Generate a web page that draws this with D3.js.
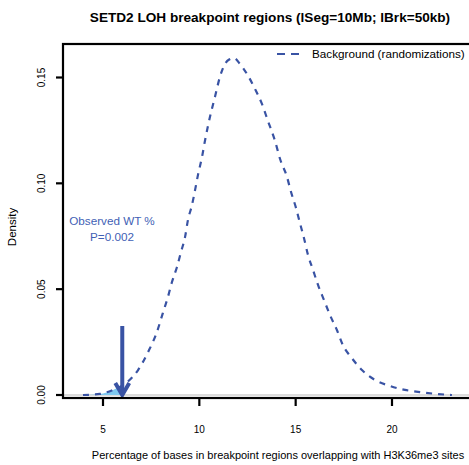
<!DOCTYPE html>
<html>
<head>
<meta charset="utf-8">
<script src="https://cdn.jsdelivr.net/npm/d3@7"></script>
<style>
  body { margin: 0; background: #fff; }
  svg { display: block; font-family: "Liberation Sans", Arial, sans-serif; }
</style>
</head>
<body>
<svg id="chart" width="469" height="465"></svg>
<script>
// Background density (randomizations)
const densX = [3.96, 4.84, 5.52, 6.25, 6.82, 7.34, 7.80, 8.11, 8.37, 8.58, 8.84, 9.05, 9.26, 9.41,
  9.62, 9.78, 9.93, 10.14, 10.29, 10.55, 10.81, 11.07, 11.33, 11.55, 11.80, 12.10, 12.47, 12.89,
  13.25, 13.56, 13.93, 14.19, 14.55, 14.76, 15.02, 15.22, 15.43, 15.64, 15.90, 16.16, 16.47,
  16.78, 17.14, 17.45, 17.92, 18.44, 19.12, 19.89, 20.67, 21.45, 22.33, 23.11]
const densY = [0.0000, 0.0005, 0.0024, 0.0060, 0.0118, 0.0203, 0.0298, 0.0388, 0.0463, 0.0534,
  0.0605, 0.0676, 0.0747, 0.0827, 0.0898, 0.0969, 0.1040, 0.1125, 0.1200, 0.1313, 0.1408,
  0.1503, 0.1564, 0.1585, 0.1592, 0.1565, 0.1517, 0.1446, 0.1375, 0.1295, 0.1200, 0.1115,
  0.1030, 0.0959, 0.0883, 0.0813, 0.0742, 0.0662, 0.0591, 0.0520, 0.0449, 0.0378, 0.0307,
  0.0236, 0.0174, 0.0118, 0.0071, 0.0043, 0.0024, 0.0014, 0.0005, 0.0000]
const observed = 6.0
const pValue = '0.002'
const xTicks = [5, 10, 15, 20]
const yTicks = [0, 0.05, 0.10, 0.15]

const blue = '#3953a4'
const svg = d3.select('#chart')

const x = d3.scaleLinear().domain([5, 20]).range([103, 392])
const y = d3.scaleLinear().domain([0, 0.15]).range([395, 77.5])
const plot = { left: 63, top: 44, right: 472, bottom: 398 }

const pts = densX.map((d, i) => [d, densY[i]])

svg.append('clipPath').attr('id', 'clip')
  .append('rect')
  .attr('x', plot.left).attr('y', plot.top)
  .attr('width', plot.right - plot.left).attr('height', plot.bottom - plot.top)

const g = svg.append('g').attr('clip-path', 'url(#clip)')

// zero line
g.append('line')
  .attr('x1', plot.left).attr('x2', plot.right)
  .attr('y1', y(0)).attr('y2', y(0))
  .attr('stroke', '#d0d0d0').attr('stroke-width', 1.5)

// shaded tail up to observed value
const k = d3.bisectLeft(densX, observed)
const t = (observed - densX[k - 1]) / (densX[k] - densX[k - 1])
const yAtObs = densY[k - 1] + t * (densY[k] - densY[k - 1])
const tail = pts.filter(p => p[0] <= observed).concat([[observed, yAtObs]])
g.append('path')
  .datum(tail)
  .attr('fill', '#7ec8ef')
  .attr('d', d3.area().x(d => x(d[0])).y0(y(0)).y1(d => y(d[1])).curve(d3.curveMonotoneX))

// density curve
g.append('path')
  .datum(pts)
  .attr('fill', 'none')
  .attr('stroke', blue)
  .attr('stroke-width', 2.2)
  .attr('stroke-dasharray', '6,6')
  .attr('d', d3.line().x(d => x(d[0])).y(d => y(d[1])).curve(d3.curveMonotoneX))

// observed arrow
const ax = x(observed)
g.append('line')
  .attr('x1', ax).attr('x2', ax)
  .attr('y1', 326).attr('y2', y(0) - 2)
  .attr('stroke', blue).attr('stroke-width', 4)
g.append('path')
  .attr('d', `M${ax - 7},${y(0) - 12}L${ax},${y(0)}L${ax + 7},${y(0) - 12}`)
  .attr('fill', 'none').attr('stroke', blue).attr('stroke-width', 4)
  .attr('stroke-linejoin', 'miter')

// observed label
const lab = svg.append('text')
  .attr('text-anchor', 'middle')
  .attr('fill', '#3f5fb5')
  .attr('font-size', 11.7)
lab.append('tspan').attr('x', 112).attr('y', 225).text('Observed WT %')
lab.append('tspan').attr('x', 112).attr('y', 241).text('P=' + pValue)

// box
svg.append('rect')
  .attr('x', plot.left).attr('y', plot.top)
  .attr('width', plot.right - plot.left).attr('height', plot.bottom - plot.top)
  .attr('fill', 'none').attr('stroke', '#000').attr('stroke-width', 2.2)

// x axis
const xAxis = svg.append('g')
xAxis.selectAll('line').data(xTicks).join('line')
  .attr('x1', d => x(d)).attr('x2', d => x(d))
  .attr('y1', plot.bottom).attr('y2', plot.bottom + 8)
  .attr('stroke', '#000').attr('stroke-width', 2.2)
xAxis.selectAll('text').data(xTicks).join('text')
  .attr('x', d => x(d)).attr('y', 433)
  .attr('text-anchor', 'middle').attr('font-size', 10)
  .text(d => d)

// y axis
const yAxis = svg.append('g')
yAxis.selectAll('line').data(yTicks).join('line')
  .attr('x1', plot.left - 7).attr('x2', plot.left)
  .attr('y1', d => y(d)).attr('y2', d => y(d))
  .attr('stroke', '#000').attr('stroke-width', 2.2)
yAxis.selectAll('text').data(yTicks).join('text')
  .attr('transform', d => `translate(45,${y(d)}) rotate(-90)`)
  .attr('text-anchor', 'middle').attr('font-size', 10)
  .text(d => d3.format('.2f')(d))

// titles
svg.append('text')
  .attr('x', 270).attr('y', 22)
  .attr('text-anchor', 'middle').attr('font-size', 13.6).attr('font-weight', 'bold')
  .text('SETD2 LOH breakpoint regions (lSeg=10Mb; lBrk=50kb)')
svg.append('text')
  .attr('x', 278).attr('y', 459)
  .attr('text-anchor', 'middle').attr('font-size', 11)
  .text('Percentage of bases in breakpoint regions overlapping with H3K36me3 sites')
svg.append('text')
  .attr('transform', 'translate(16,227) rotate(-90)')
  .attr('text-anchor', 'middle').attr('font-size', 11.5)
  .text('Density')

// legend
svg.append('line')
  .attr('x1', 277).attr('x2', 303).attr('y1', 54).attr('y2', 54)
  .attr('stroke', blue).attr('stroke-width', 2).attr('stroke-dasharray', '8,6')
svg.append('text')
  .attr('x', 312).attr('y', 58).attr('font-size', 11.7)
  .text('Background (randomizations)')
</script>
</body>
</html>
